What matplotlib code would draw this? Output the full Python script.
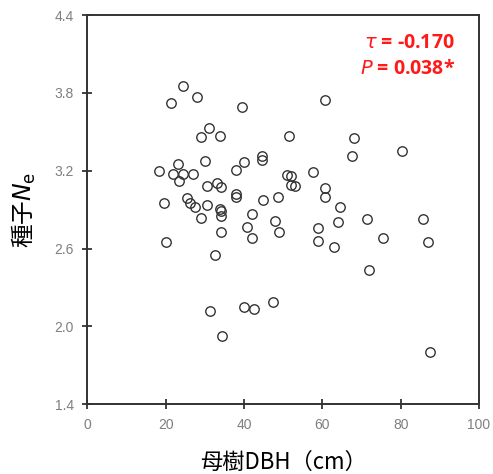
import matplotlib
matplotlib.use("Agg")
import matplotlib.pyplot as plt

plt.rcParams['font.family'] = ['Noto Sans CJK JP', 'DejaVu Sans']
plt.rcParams['mathtext.fontset'] = 'dejavusans'

dbh = [24.5, 21.5, 27.9, 39.4, 60.6, 31.1, 29.0, 34.0, 51.5, 68.0,
       80.4, 67.6, 44.5, 44.5, 23.1, 30.0, 40.0, 18.4, 38.0, 22.0,
       24.4, 27.0, 23.4, 50.9, 52.0, 57.5, 30.5, 33.0, 34.1, 52.0,
       53.0, 60.6, 38.0, 38.0, 48.6, 60.6, 44.9, 25.5, 26.1, 27.5,
       19.5, 30.5, 64.6, 29.0, 33.8, 34.2, 34.1, 42.0, 40.9, 48.0,
       49.0, 42.1, 34.1, 20.1, 32.5, 59.0, 64.0, 71.5, 85.8, 75.5,
       87.1, 59.0, 63.1, 72.0, 31.4, 39.9, 42.5, 47.5, 34.5, 87.5]
ne = [3.854, 3.721, 3.772, 3.690, 3.744, 3.533, 3.457, 3.471, 3.471, 3.456,
      3.353, 3.312, 3.312, 3.286, 3.251, 3.276, 3.268, 3.197, 3.206, 3.172,
      3.179, 3.172, 3.122, 3.168, 3.163, 3.189, 3.083, 3.110, 3.072, 3.091,
      3.081, 3.070, 3.018, 3.001, 3.001, 3.000, 2.974, 2.987, 2.954, 2.921,
      2.950, 2.938, 2.925, 2.834, 2.903, 2.894, 2.852, 2.866, 2.767, 2.812,
      2.725, 2.684, 2.725, 2.651, 2.553, 2.763, 2.808, 2.830, 2.830, 2.680,
      2.648, 2.657, 2.615, 2.432, 2.116, 2.152, 2.132, 2.186, 1.927, 1.805]

x_ticks = [0, 20, 40, 60, 80, 100]
y_ticks = [1.4, 2.0, 2.6, 3.2, 3.8, 4.4]

fig = plt.figure(figsize=(4.93, 4.74), dpi=100)
ax = fig.add_axes([0.177, 0.147, 0.7946, 0.821])

ax.plot(dbh, ne, linestyle='none', marker='o', markersize=6.8,
        markerfacecolor='none', markeredgecolor='#333333', markeredgewidth=1.0)

ax.set_xlim(0, 100)
ax.set_ylim(1.4, 4.4)
ax.set_xticks(x_ticks)
ax.set_yticks(y_ticks)
ax.set_xticklabels([str(t) for t in x_ticks])
ax.set_yticklabels([f"{t:.1f}" for t in y_ticks])
ax.tick_params(direction='inout', length=7, width=1.2, color='#222222',
               labelcolor='#7f7f7f', labelsize=10, pad=6)
for lab in ax.get_xticklabels() + ax.get_yticklabels():
    lab.set_family(['Liberation Sans', 'DejaVu Sans'])
for s in ax.spines.values():
    s.set_color('#333333')
    s.set_linewidth(1.4)

ax.set_xlabel('母樹DBH（cm）', fontsize=16, labelpad=14)
ax.set_ylabel('種子$N_\\mathrm{e}$', fontsize=17, labelpad=12)

ax.text(0.939, 0.9286, '$\\tau$ = -0.170', transform=ax.transAxes, ha='right',
        va='center', color='#ff1a1a', fontsize=14, fontweight='bold',
        family=['Open Sans', 'DejaVu Sans'])
ax.text(0.939, 0.8617, '$\\mathbf{\\mathit{P}}$ = 0.038*', transform=ax.transAxes, ha='right',
        va='center', color='#ff1a1a', fontsize=14, fontweight='bold',
        family=['Open Sans', 'DejaVu Sans'])

fig.savefig('out.png', dpi=100)
